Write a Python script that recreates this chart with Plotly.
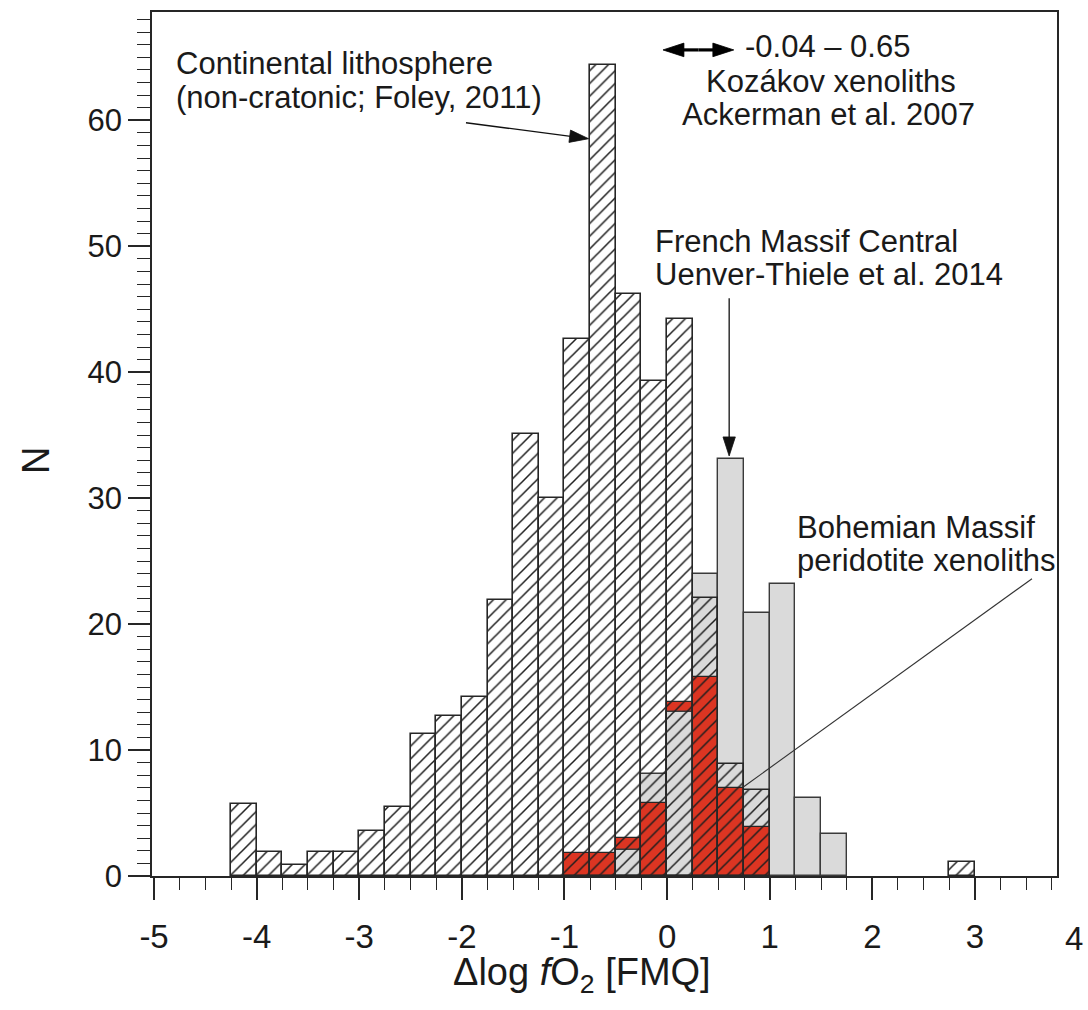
import plotly.graph_objects as go

# ---------------------------------------------------------------------------
# Histogram data: left bin edges (Δlog fO2, FMQ) and counts per 0.25 bin
# ---------------------------------------------------------------------------
BIN_WIDTH = 0.25

# Continental lithosphere (non-cratonic; Foley, 2011)
lith_edges = [-4.25, -4.0, -3.75, -3.5, -3.25, -3.0, -2.75, -2.5, -2.25, -2.0,
              -1.75, -1.5, -1.25, -1.0, -0.75, -0.5, -0.25, 0.0, 0.25, 0.5,
              0.75, 2.75]
lith_counts = [5.7, 1.9, 0.9, 1.9, 1.9, 3.6, 5.5, 11.3, 12.7, 14.2,
               21.9, 35.1, 30.0, 42.6, 64.4, 46.2, 39.3, 44.2, 22.1, 8.9,
               6.8, 1.1]

# French Massif Central (Uenver-Thiele et al. 2014)
french_edges = [-0.5, -0.25, 0.0, 0.25, 0.5, 0.75, 1.0, 1.25, 1.5]
french_counts = [2.1, 8.1, 13.0, 24.0, 33.1, 20.9, 23.2, 6.2, 3.3]

# Bohemian Massif peridotite xenoliths
bohem_edges = [-1.0, -0.75, -0.5, -0.25, 0.0, 0.25, 0.5, 0.75]
bohem_counts = [1.8, 1.8, 3.0, 5.8, 13.8, 15.8, 7.0, 3.9]

# Kozákov xenoliths range (Ackerman et al. 2007)
kozakov_range = [-0.04, 0.65]

# Axis tick labels and titles
x_ticks = [-5, -4, -3, -2, -1, 0, 1, 2, 3, 4]
x_tick_labels = ["-5", "-4", "-3", "-2", "-1", "0", "1", "2", "3", "4"]
y_ticks = [0, 10, 20, 30, 40, 50, 60]
y_tick_labels = ["0", "10", "20", "30", "40", "50", "60"]
x_title = "\u0394log <i>f</i>O<sub>2</sub> [FMQ]"
y_title = "N"

# Bins in which the grey French bar is painted over the red one
french_front_edges = [-0.5, 0.0]

# ---------------------------------------------------------------------------
# Layout geometry
# ---------------------------------------------------------------------------
W, H = 1088, 1010
M_L, M_R, M_T, M_B = 152, 31, 10, 134
X_RANGE = [-5.02, 3.80]
Y_RANGE = [0, 68.6]
PLOT_W = W - M_L - M_R
PLOT_H = H - M_T - M_B

FONT = "Liberation Sans, Arial, Helvetica, sans-serif"
INK = "#1a1a1a"
EDGE = "#262626"
GREY = "#dadada"
RED = "#dc3522"


def px_x(px):
    """Horizontal page pixel -> paper fraction."""
    return (px - M_L) / PLOT_W


def px_y(py):
    """Vertical page pixel -> paper fraction."""
    return (H - M_B - py) / PLOT_H


def x_of_px(px):
    """Horizontal page pixel -> data x."""
    return X_RANGE[0] + (px - M_L) / PLOT_W * (X_RANGE[1] - X_RANGE[0])


def y_of_px(py):
    """Vertical page pixel -> data y."""
    return Y_RANGE[0] + (H - M_B - py) / PLOT_H * (Y_RANGE[1] - Y_RANGE[0])


fig = go.Figure()

bar_common = dict(width=BIN_WIDTH, offset=0, hoverinfo="skip", showlegend=False)

# grey French Massif Central bars (drawn first, underneath)
fig.add_trace(go.Bar(
    x=french_edges, y=french_counts,
    marker=dict(color=GREY, line=dict(color="#3a3a3a", width=1.4)),
    **bar_common))

# red Bohemian Massif bars
fig.add_trace(go.Bar(
    x=bohem_edges, y=bohem_counts,
    marker=dict(color=RED, line=dict(color=EDGE, width=1.2)),
    **bar_common))

# grey bars that sit in front of the red ones
front_counts = [french_counts[french_edges.index(e)] for e in french_front_edges]
fig.add_trace(go.Bar(
    x=french_front_edges, y=front_counts,
    marker=dict(color=GREY, line=dict(color="#3a3a3a", width=1.4)),
    **bar_common))

# hatched continental lithosphere histogram on top (transparent background)
fig.add_trace(go.Bar(
    x=lith_edges, y=lith_counts,
    marker=dict(
        color="rgba(0,0,0,0)",
        line=dict(color=EDGE, width=1.6),
        pattern=dict(shape="/", fgcolor="#1e1e1e", bgcolor="rgba(0,0,0,0)",
                     size=9, solidity=0.17, fillmode="replace"),
    ),
    **bar_common))


# ---------------------------------------------------------------------------
# Pointer lines and arrows (line traces with arrow-tip markers)
# ---------------------------------------------------------------------------
def pointer(xs, ys, width, head_size, color="#111111", head="arrow"):
    sizes = [0] * len(xs)
    symbols = ["circle"] * len(xs)
    for i in range(1, len(xs)):
        if xs[i] is not None and xs[i - 1] is not None and head_size:
            sizes[i] = head_size
            symbols[i] = head
    fig.add_trace(go.Scatter(
        x=xs, y=ys, mode="lines+markers" if head_size else "lines",
        line=dict(color=color, width=width),
        marker=dict(symbol=symbols, size=sizes, angleref="previous",
                    color=color, opacity=1, line=dict(width=0.8, color=color)),
        opacity=1,
        hoverinfo="skip", showlegend=False, cliponaxis=False))


# Continental lithosphere arrow -> tall bar at -0.75
pointer([x_of_px(466), -0.765], [y_of_px(121), y_of_px(137)], 1.3, 20)

# Kozákov range double arrow
k_mid = sum(kozakov_range) / 2
k_y = y_of_px(48)
pointer([k_mid, kozakov_range[0], None, k_mid, kozakov_range[1]],
        [k_y, k_y, None, k_y, k_y], 3.2, 22, color="#000000")

# French Massif Central arrow -> top of grey bar at 0.5–0.75
f_x = french_edges[4] + BIN_WIDTH / 2 - 0.02
pointer([f_x, f_x], [y_of_px(297), french_counts[4] + 0.25], 1.3, 20)

# Bohemian Massif leader line
pointer([x_of_px(1032), x_of_px(743)], [y_of_px(578), y_of_px(787)], 1.1, 0,
        color="#333333")

# ---------------------------------------------------------------------------
# Text annotations
# ---------------------------------------------------------------------------
ann = []
TXT = dict(size=31, color=INK, family=FONT)


def text_line(text, px, py, anchor="left", size=None, angle=0):
    font = dict(TXT) if size is None else dict(TXT, size=size)
    ann.append(dict(text=text, xref="paper", yref="paper",
                    x=px_x(px), y=px_y(py), xanchor=anchor, yanchor="middle",
                    textangle=angle, showarrow=False, font=font))


text_line("Continental lithosphere", 174, 62)
text_line("(non-cratonic; Foley, 2011)", 174, 96)

text_line(f"{kozakov_range[0]:.2f} \u2013 {kozakov_range[1]:.2f}", 743, 45)
text_line("Kozákov xenoliths", 831, 80, anchor="center")
text_line("Ackerman et al. 2007", 828, 113, anchor="center")

text_line("French Massif Central", 653, 240)
text_line("Uenver-Thiele et al. 2014", 653, 273)

text_line("Bohemian Massif", 795, 527)
text_line("peridotite xenoliths", 795, 560)

# axis titles
text_line(y_title, 36, 460, anchor="center", size=38, angle=-90)
text_line(x_title, 582, 975, anchor="center", size=38)

# x tick labels beyond the frame edge
PX_PER_UNIT = PLOT_W / (X_RANGE[1] - X_RANGE[0])
for v, lab in zip(x_ticks, x_tick_labels):
    if v > X_RANGE[1]:
        px = M_L + (v - X_RANGE[0]) * PX_PER_UNIT
        text_line(lab, px - 4, 939, anchor="center", size=33)

in_x = [(v, l) for v, l in zip(x_ticks, x_tick_labels) if X_RANGE[0] <= v <= X_RANGE[1]]

fig.update_layout(
    width=W, height=H,
    margin=dict(l=M_L, r=M_R, t=M_T, b=M_B, pad=0),
    paper_bgcolor="white", plot_bgcolor="white",
    barmode="overlay", bargap=0,
    showlegend=False,
    font=dict(family=FONT, color=INK),
    annotations=ann,
    xaxis=dict(
        range=X_RANGE, tickmode="array",
        tickvals=[v for v, _ in in_x], ticktext=[l for _, l in in_x],
        ticks="outside", ticklen=22, tickwidth=1.5, tickcolor=EDGE,
        ticklabelstandoff=8,
        showline=True, mirror=True, linecolor=EDGE, linewidth=1.8,
        showgrid=False, zeroline=False,
        tickfont=dict(size=33, color=INK, family=FONT),
        minor=dict(dtick=0.25, tick0=0, ticks="outside", ticklen=12,
                   tickwidth=1.3, tickcolor=EDGE, showgrid=False),
    ),
    yaxis=dict(
        range=Y_RANGE, tickmode="array",
        tickvals=y_ticks, ticktext=y_tick_labels,
        ticks="outside", ticklen=22, tickwidth=1.5, tickcolor=EDGE,
        showline=True, mirror=True, linecolor=EDGE, linewidth=1.8,
        showgrid=False, zeroline=False,
        tickfont=dict(size=31, color=INK, family=FONT),
        minor=dict(dtick=1, tick0=0, ticks="outside", ticklen=13,
                   tickwidth=1.2, tickcolor=EDGE, showgrid=False),
    ),
)

fig.write_html("out.html")
